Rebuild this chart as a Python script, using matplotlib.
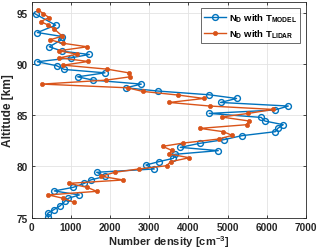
import matplotlib
matplotlib.use("Agg")
import matplotlib.pyplot as plt

# number density with model temperature (blue, open circles)
alt_model = [94.84, 93.77, 93.05, 92.66, 92.30, 91.66, 91.23, 90.91, 90.58, 90.20,
             89.81, 89.45, 89.12, 88.73, 88.41, 88.02, 87.66, 87.34, 86.98, 86.62,
             86.23, 85.88, 85.49, 85.16, 84.77, 84.42, 84.06, 83.70, 83.38, 82.99,
             82.60, 82.24, 81.85, 81.53, 81.17, 80.78, 80.45, 80.13, 79.74, 79.42,
             79.03, 78.67, 78.34, 77.95, 77.60, 77.21, 76.88, 76.60, 76.14, 75.78,
             75.42, 75.03]
nd_model = [102, 612, 145, 782, 740, 450, 782, 1471, 1003, 145,
            638, 833, 1871, 1173, 1565, 2798, 2406, 3231, 4524, 5230,
            4821, 6550, 6200, 4532, 5859, 5952, 6420, 6280, 6220, 5366,
            4906, 4286, 3793, 4762, 3650, 3614, 3240, 2917, 3129, 1658,
            1879, 1505, 1344, 1060, 578, 1216, 935, 850, 723, 570,
            408, 425]

# number density with lidar temperature (orange, dots)
alt_lidar = [95.23, 94.90, 94.51, 94.12, 93.77, 93.41, 92.70, 92.34, 92.00, 91.66,
             91.27, 90.94, 90.58, 90.23, 89.87, 89.48, 89.12, 88.73, 88.41, 88.02,
             87.66, 87.31, 86.95, 86.62, 86.23, 85.88, 85.55, 85.16, 84.81, 84.42,
             84.06, 83.70, 83.38, 83.02, 82.66, 82.27, 81.95, 81.56, 81.20, 80.84,
             80.45, 80.06, 79.74, 79.42, 79.03, 78.67, 78.34, 77.95, 77.56, 77.21,
             76.88, 76.49]
nd_lidar = [170, 298, 442, 230, 425, 570, 782, 468, 808, 1420,
            689, 1165, 706, 1446, 808, 1922, 2474, 2508, 1905, 264,
            2449, 2832, 3741, 4396, 3512, 4549, 6165, 5527, 4847, 5553,
            5485, 4294, 4889, 5119, 4770, 3869, 3342, 3571, 3512, 4022,
            3546, 3444, 2730, 2126, 1769, 2338, 944, 1420, 1658, 425,
            808, 1080]

blue = "#0072BD"
orange = "#D95319"
dark = "#262626"

plt.rcParams['font.family'] = ['Liberation Sans', 'DejaVu Sans']
plt.rcParams['font.weight'] = 'bold'
plt.rcParams['mathtext.fontset'] = 'custom'
plt.rcParams['mathtext.rm'] = 'Liberation Sans:bold'
plt.rcParams['mathtext.bf'] = 'Liberation Sans:bold'
plt.rcParams['mathtext.it'] = 'Liberation Sans:bold'

fig = plt.figure(figsize=(3.2, 2.53), dpi=100)
ax = fig.add_axes([0.099, 0.136, 0.857, 0.851])

ax.plot(nd_model, alt_model, color=blue, lw=1.0, marker='o', markersize=4.2,
        markerfacecolor='none', markeredgewidth=1.0, label=r'N$_\mathrm{D}$ with T$_\mathrm{MODEL}$')
ax.plot(nd_lidar, alt_lidar, color=orange, lw=1.0, marker='o', markersize=3.0,
        markerfacecolor=orange, markeredgewidth=0.5, label=r'N$_\mathrm{D}$ with T$_\mathrm{LIDAR}$')

ax.set_xlim(0, 7000)
ax.set_ylim(75, 96)
ax.set_xticks(range(0, 7001, 1000))
ax.set_yticks([75, 80, 85, 90, 95])
ax.grid(True, color='#e3e3e3', lw=0.6)
ax.set_axisbelow(True)
ax.tick_params(direction='in', top=True, right=True, labelsize=7.2, length=2.5,
               width=0.6, colors=dark, pad=3)
for s in ax.spines.values():
    s.set_color(dark)
    s.set_linewidth(0.6)

ax.set_xlabel(r'Number density [cm$^\mathrm{-3}$]', fontsize=8, fontweight='bold',
              color=dark, labelpad=1)
ax.set_ylabel('Altitude [km]', fontsize=8.6, fontweight='bold', color=dark, labelpad=1.5)

leg = ax.legend(loc='upper right', fontsize=6.8, frameon=True, fancybox=False,
                edgecolor=dark, handlelength=2.3, borderpad=0.35,
                labelspacing=0.35, handletextpad=0.3, borderaxespad=0.6)
leg.get_frame().set_linewidth(0.6)

fig.savefig("out.png", dpi=100)
